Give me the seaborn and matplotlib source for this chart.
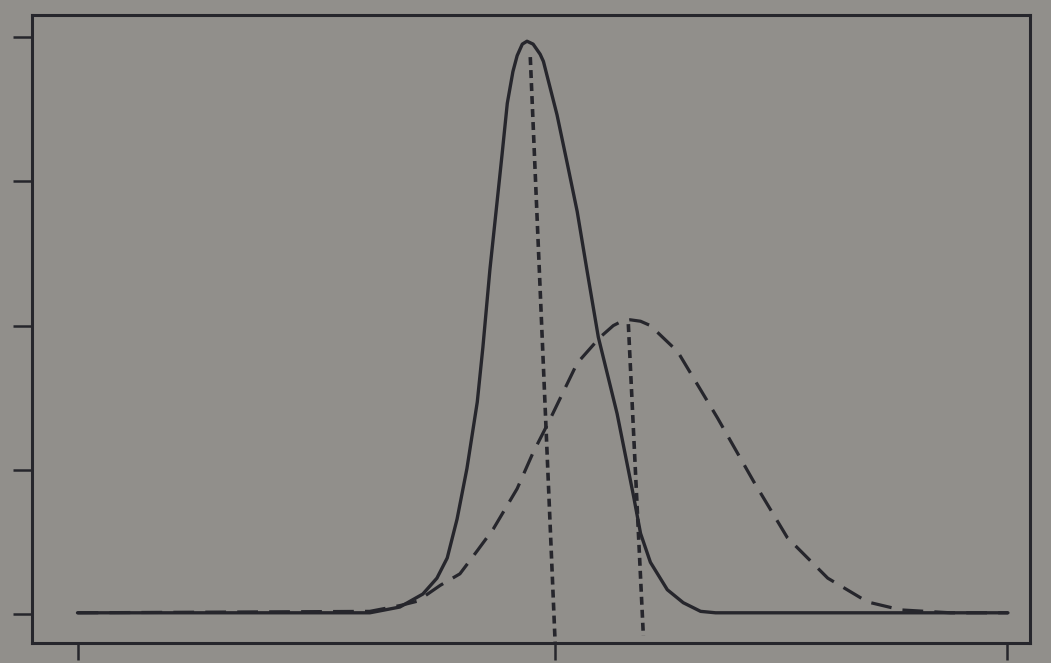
import numpy as np
import pandas as pd
import seaborn as sns
import matplotlib.pyplot as plt

# values (x in tick units, y in tick units)
narrow_x = [0.00, 0.37, 0.58, 0.623, 0.687, 0.736, 0.766, 0.788, 0.809, 0.830, 0.852, 0.864,
            0.879, 0.894, 0.905, 0.916, 0.928, 0.937, 0.948, 0.958, 0.971, 0.986, 0.993,
            1.022, 1.044, 1.065, 1.086, 1.110, 1.150, 1.185, 1.200, 1.221, 1.257, 1.291,
            1.328, 1.360, 1.648, 1.983]
narrow_y = [0.01, 0.01, 0.01, 0.01, 0.05, 0.14, 0.25, 0.39, 0.66, 1.01, 1.47, 1.85,
            2.39, 2.85, 3.19, 3.54, 3.76, 3.87, 3.95, 3.97, 3.95, 3.88, 3.83,
            3.46, 3.12, 2.79, 2.38, 1.92, 1.39, 0.82, 0.56, 0.36, 0.17, 0.08,
            0.02, 0.01, 0.01, 0.01]

wide_x = [0.00, 0.623, 0.687, 0.724, 0.773, 0.815, 0.852, 0.886, 0.937, 0.971, 1.007,
          1.065, 1.114, 1.142, 1.160, 1.178, 1.200, 1.221, 1.279, 1.364, 1.441, 1.513,
          1.599, 1.684, 1.755, 1.861, 1.983]
wide_y = [0.01, 0.02, 0.06, 0.09, 0.20, 0.28, 0.44, 0.59, 0.87, 1.12, 1.35,
          1.74, 1.92, 2.00, 2.03, 2.04, 2.03, 2.00, 1.82, 1.36, 0.92, 0.53,
          0.25, 0.085, 0.03, 0.01, 0.01]

# dotted markers dropped from each peak
peak1_x = [0.965, 1.018]
peak1_y = [3.86, -0.20]
peak2_x = [1.174, 1.206]
peak2_y = [2.01, -0.15]

y_ticks = [0, 1, 2, 3, 4]
x_ticks = [0, 1.018, 1.98]

bg = '#918f8b'
ink = '#26262c'

sns.set_style('ticks')
plt.rcParams['font.family'] = ['DejaVu Sans']

fig = plt.figure(figsize=(10.51, 6.63), dpi=100, facecolor=bg)
ax = fig.add_axes([0.030, 0.030, 0.950, 0.947])
ax.set_facecolor(bg)

narrow = pd.DataFrame({'x': narrow_x, 'y': narrow_y})
wide = pd.DataFrame({'x': wide_x, 'y': wide_y})

sns.lineplot(data=wide, x='x', y='y', ax=ax, color=ink, lw=2.3,
             linestyle=(0, (6.5, 3.5)), estimator=None, sort=False)
sns.lineplot(data=narrow, x='x', y='y', ax=ax, color=ink, lw=2.4,
             estimator=None, sort=False)
sns.lineplot(x=peak1_x, y=peak1_y, ax=ax, color=ink, lw=2.6,
             linestyle=(0, (2.2, 1.4)), estimator=None, sort=False)
sns.lineplot(x=peak2_x, y=peak2_y, ax=ax, color=ink, lw=2.6,
             linestyle=(0, (2.2, 1.4)), estimator=None, sort=False)

ax.set_xlim(-0.098, 2.03)
ax.set_ylim(-0.20, 4.15)
ax.set_xticks(x_ticks)
ax.set_yticks(y_ticks)
ax.set_xticklabels([])
ax.set_yticklabels([])
ax.set_xlabel('')
ax.set_ylabel('')
ax.tick_params(axis='y', direction='out', length=14, width=1.8, color=ink)
ax.tick_params(axis='x', direction='out', length=12, width=1.8, color=ink)
for s in ax.spines.values():
    s.set_visible(True)
    s.set_color(ink)
    s.set_linewidth(2.2)

fig.savefig('out.png', dpi=100, facecolor=bg)
